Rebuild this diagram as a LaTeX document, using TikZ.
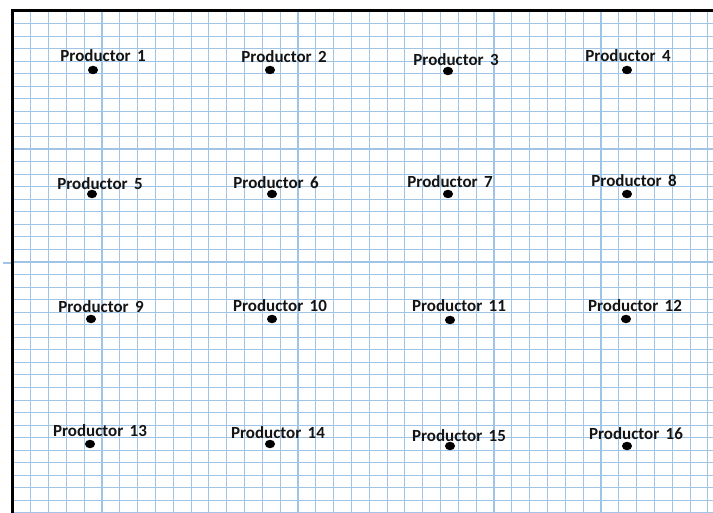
\documentclass[tikz,border=0pt]{standalone}
\usepackage{fontspec}
\setmainfont{Carlito}
\usetikzlibrary{shapes.geometric}
\definecolor{gridblue}{RGB}{160,196,230}
\definecolor{inkblack}{RGB}{20,20,20}
\tikzset{
  gridline/.style={draw=gridblue, line width=1.1pt},
  frameline/.style={draw=black, line width=3pt},
  prodlabel/.style={anchor=base, inner sep=0pt, text=inkblack, font=\fontsize{17}{20}\selectfont\bfseries},
  proddot/.style={ellipse, fill=black, draw=none, minimum width=10pt, minimum height=8.5pt, inner sep=0pt},
}
\newcommand{\prodname}[1]{Productor\hspace{2.5pt} #1}
\begin{document}
\begin{tikzpicture}[x=1pt,y=-1pt]
\useasboundingbox (0,0) rectangle (713,513);
\fill[white] (0,0) rectangle (713,513);
% grid
\foreach \k in {0,...,39} {
  \draw[gridline] ({12.9+17.82*\k},11) -- ({12.9+17.82*\k},513);
}
\foreach \k in {0,...,40} {
  \draw[gridline] (12,{11+12.55*\k}) -- (713,{11+12.55*\k});
}
\coordinate (stubA) at (3,263);
\coordinate (stubB) at (12,263);
\draw[gridline] (stubA) -- (stubB);
% frame
\coordinate (fTL) at (12,11);
\coordinate (fTR) at (713,11);
\coordinate (fBL) at (12,513);
\draw[frameline] (fTR) -- (fTL) -- (fBL);
% labels
\node[prodlabel] (p1) at (103,61.5) {\prodname{1}};
\node[prodlabel] (p2) at (284,62.5) {\prodname{2}};
\node[prodlabel] (p3) at (456,65.5) {\prodname{3}};
\node[prodlabel] (p4) at (628,61.5) {\prodname{4}};
\node[prodlabel] (p5) at (100,189.5) {\prodname{5}};
\node[prodlabel] (p6) at (276,188.5) {\prodname{6}};
\node[prodlabel] (p7) at (450,187.5) {\prodname{7}};
\node[prodlabel] (p8) at (634,186.5) {\prodname{8}};
\node[prodlabel] (p9) at (101,312.5) {\prodname{9}};
\node[prodlabel] (p10) at (280,311.5) {\prodname{10}};
\node[prodlabel] (p11) at (459,311.5) {\prodname{11}};
\node[prodlabel] (p12) at (635,311.5) {\prodname{12}};
\node[prodlabel] (p13) at (100,436.5) {\prodname{13}};
\node[prodlabel] (p14) at (278,438.5) {\prodname{14}};
\node[prodlabel] (p15) at (459,441.5) {\prodname{15}};
\node[prodlabel] (p16) at (636,439.5) {\prodname{16}};
% dots
\node[proddot] (d1) at (93,70) {};
\node[proddot] (d2) at (270,70) {};
\node[proddot] (d3) at (448,71) {};
\node[proddot] (d4) at (627,70) {};
\node[proddot] (d5) at (92,194) {};
\node[proddot] (d6) at (272,194) {};
\node[proddot] (d7) at (448,194) {};
\node[proddot] (d8) at (627,194) {};
\node[proddot] (d9) at (91,319) {};
\node[proddot] (d10) at (272,319) {};
\node[proddot] (d11) at (450,320) {};
\node[proddot] (d12) at (626,319) {};
\node[proddot] (d13) at (90,444) {};
\node[proddot] (d14) at (270,444) {};
\node[proddot] (d15) at (450,446) {};
\node[proddot] (d16) at (627,446) {};
\end{tikzpicture}
\end{document}
